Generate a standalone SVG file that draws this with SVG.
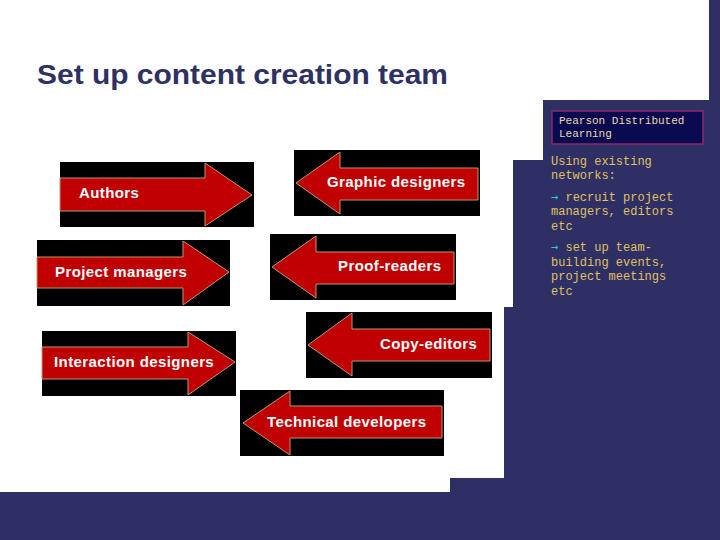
<svg xmlns="http://www.w3.org/2000/svg" width="720" height="540" viewBox="0 0 720 540">
<style>
.bg{fill:#2d2f65}
.blk{fill:#000}
.arr{fill:#c00000;stroke:#b89870;stroke-width:1}
.lbl{font-family:"Liberation Sans",Arial,sans-serif;font-weight:bold;font-size:15px;letter-spacing:0.4px;fill:#fff}
.title{font-family:"Liberation Sans",Arial,sans-serif;font-weight:bold;font-size:27px;fill:#2e3162}
.mono{font-family:"Liberation Mono","DejaVu Sans Mono",monospace;font-size:12px;fill:#e0c060}
.cy{fill:#30c8d0;font-family:"DejaVu Sans Mono",monospace}
</style>
<rect width="720" height="540" fill="#fff"/>
<path class="bg" d="M709,0 H720 V540 H0 V492 H450 V478 H504 V307 H513 V160 H543 V100 H709 Z"/>
<text class="title" x="37" y="84" textLength="411" lengthAdjust="spacingAndGlyphs">Set up content creation team</text>

<g id="pearson">
<rect x="552" y="111" width="151" height="33" fill="#0a0a50" stroke="#8a2a6a" stroke-width="1.5"/>
<text class="mono" x="559" y="124" style="font-size:11px;fill:#e8d8a8">Pearson Distributed</text>
<text class="mono" x="559" y="137" style="font-size:11px;fill:#e8d8a8">Learning</text>
</g>
<g id="notes">
<text class="mono" x="551" y="165">Using existing</text>
<text class="mono" x="551" y="179">networks:</text>
<text class="mono" x="551" y="201"><tspan class="cy">→</tspan> recruit project</text>
<text class="mono" x="551" y="215">managers, editors</text>
<text class="mono" x="551" y="230">etc</text>
<text class="mono" x="551" y="251"><tspan class="cy">→</tspan> set up team-</text>
<text class="mono" x="551" y="266">building events,</text>
<text class="mono" x="551" y="280">project meetings</text>
<text class="mono" x="551" y="295">etc</text>
</g>

<g id="authors">
<rect class="blk" x="60" y="162" width="194" height="65"/>
<polygon class="arr" points="60,178 205,178 205,163 252,195 205,226 205,211 60,211"/>
<text class="lbl" x="79" y="198">Authors</text>
</g>
<g id="project-managers">
<rect class="blk" x="37" y="240" width="193" height="66"/>
<polygon class="arr" points="37,257 183,257 183,241 229,272 183,305 183,288 37,288"/>
<text class="lbl" x="55" y="277">Project managers</text>
</g>
<g id="interaction-designers">
<rect class="blk" x="42" y="331" width="194" height="65"/>
<polygon class="arr" points="42,347 188,347 188,332 235,362 188,395 188,379 42,379"/>
<text class="lbl" x="54" y="367">Interaction designers</text>
</g>
<g id="graphic-designers">
<rect class="blk" x="294" y="150" width="186" height="66"/>
<polygon class="arr" points="478,168 340,168 340,152 296,183 340,214 340,200 478,200"/>
<text class="lbl" x="327" y="187">Graphic designers</text>
</g>
<g id="proof-readers">
<rect class="blk" x="270" y="234" width="186" height="66"/>
<polygon class="arr" points="454,252 316,252 316,236 272,267 316,298 316,284 454,284"/>
<text class="lbl" x="338" y="271">Proof-readers</text>
</g>
<g id="copy-editors">
<rect class="blk" x="306" y="312" width="186" height="66"/>
<polygon class="arr" points="490,329 352,329 352,313 308,345 352,376 352,361 490,361"/>
<text class="lbl" x="380" y="349">Copy-editors</text>
</g>
<g id="technical-developers">
<rect class="blk" x="240" y="390" width="204" height="66"/>
<polygon class="arr" points="442,406 290,406 290,391 243,423 290,455 290,438 442,438"/>
<text class="lbl" x="267" y="427">Technical developers</text>
</g>
</svg>
